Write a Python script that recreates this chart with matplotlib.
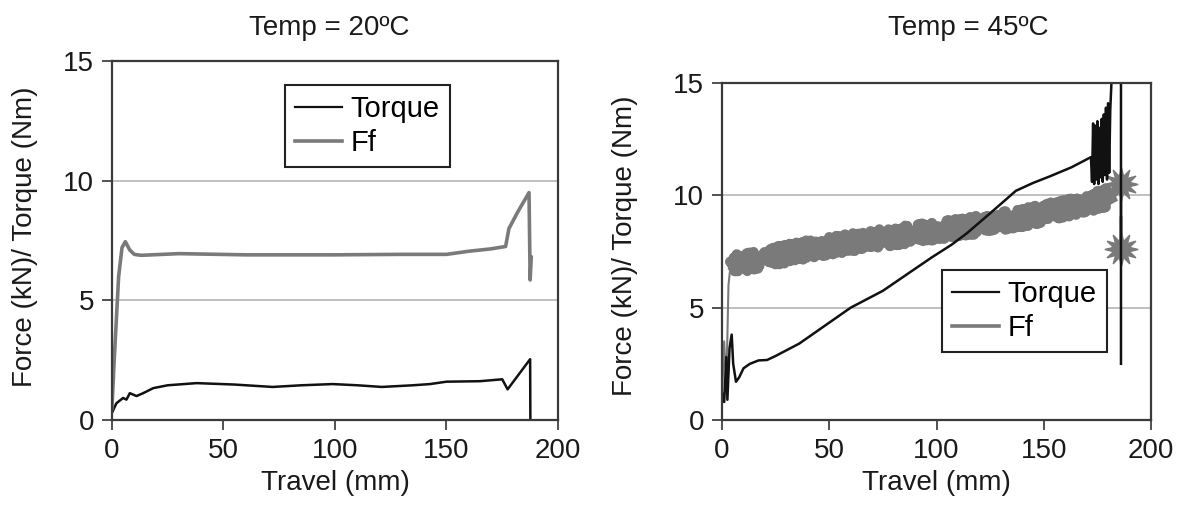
import matplotlib
matplotlib.use("Agg")
import matplotlib.pyplot as plt
from matplotlib.lines import Line2D

plt.rcParams['font.family'] = ['Liberation Sans', 'DejaVu Sans']

# Temp = 20 C
t20_ff_x = [0, 1, 3, 4.5, 6, 8, 10, 13, 30, 60, 100, 130, 150, 160, 170, 176.5, 178, 182, 187, 187.5, 188]
t20_ff_y = [0.5, 2.5, 6.0, 7.2, 7.45, 7.1, 6.92, 6.88, 6.95, 6.9, 6.9, 6.92, 6.92, 7.05, 7.15, 7.25, 8.0, 8.7, 9.5, 5.85, 6.8]
t20_tq_x = [0, 2, 5, 6.5, 8, 11, 14, 18.5, 25, 38, 55, 72, 85, 99, 110, 121, 135, 142.6, 150, 165, 175, 177.4, 187.5, 187.6]
t20_tq_y = [0.3, 0.7, 0.92, 0.85, 1.12, 1.0, 1.12, 1.33, 1.45, 1.54, 1.48, 1.38, 1.45, 1.5, 1.45, 1.38, 1.45, 1.5, 1.6, 1.62, 1.7, 1.28, 2.54, 0.05]

# Temp = 45 C
t45_rise_x = [0, 1, 2, 3, 4]
t45_rise_y = [1.0, 3.5, 1.5, 6.0, 6.9]
t45_ff_x = [4, 5, 10, 20, 40, 67, 90, 114, 140, 160, 176, 181]
t45_ff_y = [6.9, 7.0, 7.0, 7.2, 7.6, 8.0, 8.3, 8.6, 9.0, 9.4, 9.8, 10.0]
t45_tail_x = [181, 186, 186, 186]
t45_tail_y = [10.0, 10.5, 7.6, 9.0]
t45_burst_x = [186, 186]
t45_burst_y = [10.5, 7.6]
t45_tq_x = [0, 1, 2, 2.5, 3.5, 4.5, 5.2, 6.5, 8, 10, 13, 17, 21, 25, 36, 48, 60, 75, 88, 98, 107, 114, 125, 137, 145, 153, 163, 172,
            172.5, 173, 173.5, 174, 174.5, 175, 175.5, 176, 176.5, 177, 177.5, 178, 178.5, 179, 179.5, 180, 180.5, 181, 182, 186, 186]
t45_tq_y = [1.2, 0.8, 2.8, 0.9, 3.2, 3.8, 2.5, 1.7, 1.9, 2.3, 2.5, 2.65, 2.67, 2.85, 3.4, 4.2, 5.0, 5.75, 6.6, 7.25, 7.8, 8.3, 9.2, 10.2, 10.55, 10.85, 11.25, 11.7,
            10.6, 13.2, 10.5, 13.1, 10.7, 13.3, 10.5, 13.0, 10.8, 13.4, 10.6, 13.6, 10.9, 13.9, 10.7, 14.1, 11.0, 13.8, 16, 16, 2.5]

xticks = [0, 50, 100, 150, 200]
yticks = [0, 5, 10, 15]

FF_GRAY = '#7a7a7a'
TQ_BLACK = '#111111'
TXT = '#1a1a1a'


def style_axes(ax):
    ax.set_xlim(0, 200)
    ax.set_ylim(0, 15)
    ax.set_xticks(xticks)
    ax.set_yticks(yticks)
    ax.tick_params(direction='out', length=7, width=1.2, labelsize=20, colors='#333333', labelcolor=TXT, pad=6)
    ax.yaxis.grid(True, color='#b5b5b5', linewidth=1.2)
    ax.set_axisbelow(True)
    for s in ax.spines.values():
        s.set_color('#3a3a3a')
        s.set_linewidth(1.6)
    ax.set_xlabel('Travel (mm)', fontsize=20, color=TXT, labelpad=4)


def add_legend(ax, x0, ytop):
    handles = [Line2D([], [], color=TQ_BLACK, lw=1.6), Line2D([], [], color=FF_GRAY, lw=2.6)]
    leg = ax.legend(handles, ['Torque', 'Ff'], loc='upper left', bbox_to_anchor=(x0, ytop), fontsize=21,
                    frameon=True, fancybox=False, handlelength=1.6, handletextpad=0.3, borderpad=0.35,
                    labelspacing=0.2, borderaxespad=0)
    leg.get_frame().set_edgecolor('#222222')
    leg.get_frame().set_linewidth(1.5)
    leg.get_frame().set_alpha(1)


fig = plt.figure(figsize=(11.86, 5.09), dpi=100)

ax1 = fig.add_axes([0.0944, 0.1749, 0.3761, 0.7053])
style_axes(ax1)
ax1.plot(t20_tq_x, t20_tq_y, color=TQ_BLACK, lw=1.8)
ax1.plot(t20_ff_x, t20_ff_y, color=FF_GRAY, lw=2.6)
add_legend(ax1, 0.388, 0.933)

ax2 = fig.add_axes([0.6088, 0.1749, 0.3617, 0.6621])
style_axes(ax2)
ax2.plot(t45_rise_x, t45_rise_y, color=FF_GRAY, lw=1.5)
ff_line, = ax2.plot(t45_ff_x, t45_ff_y, color=FF_GRAY, lw=7.5, solid_capstyle='butt')
ff_line.set_sketch_params(scale=9, length=2, randomness=2)
ax2.plot(t45_tail_x, t45_tail_y, color=FF_GRAY, lw=2)
ax2.plot(t45_burst_x, t45_burst_y, ls='none', marker=(12, 1, 0), ms=24, color=FF_GRAY)
ax2.plot(t45_tq_x, t45_tq_y, color=TQ_BLACK, lw=1.8)
add_legend(ax2, 0.513, 0.445)

fig.text(329 / 1186, 1 - 28 / 509, 'Temp = 20ºC', ha='center', va='center', fontsize=20, color=TXT)
fig.text(968 / 1186, 1 - 28 / 509, 'Temp = 45ºC', ha='center', va='center', fontsize=20, color=TXT)
fig.text(25 / 1186, 1 - 237 / 509, 'Force (kN)/ Torque (Nm)', rotation=90, ha='center', va='center', fontsize=20, color=TXT)
fig.text(625 / 1186, 1 - 246 / 509, 'Force (kN)/ Torque (Nm)', rotation=90, ha='center', va='center', fontsize=20, color=TXT)

fig.savefig('out.png', dpi=100)
